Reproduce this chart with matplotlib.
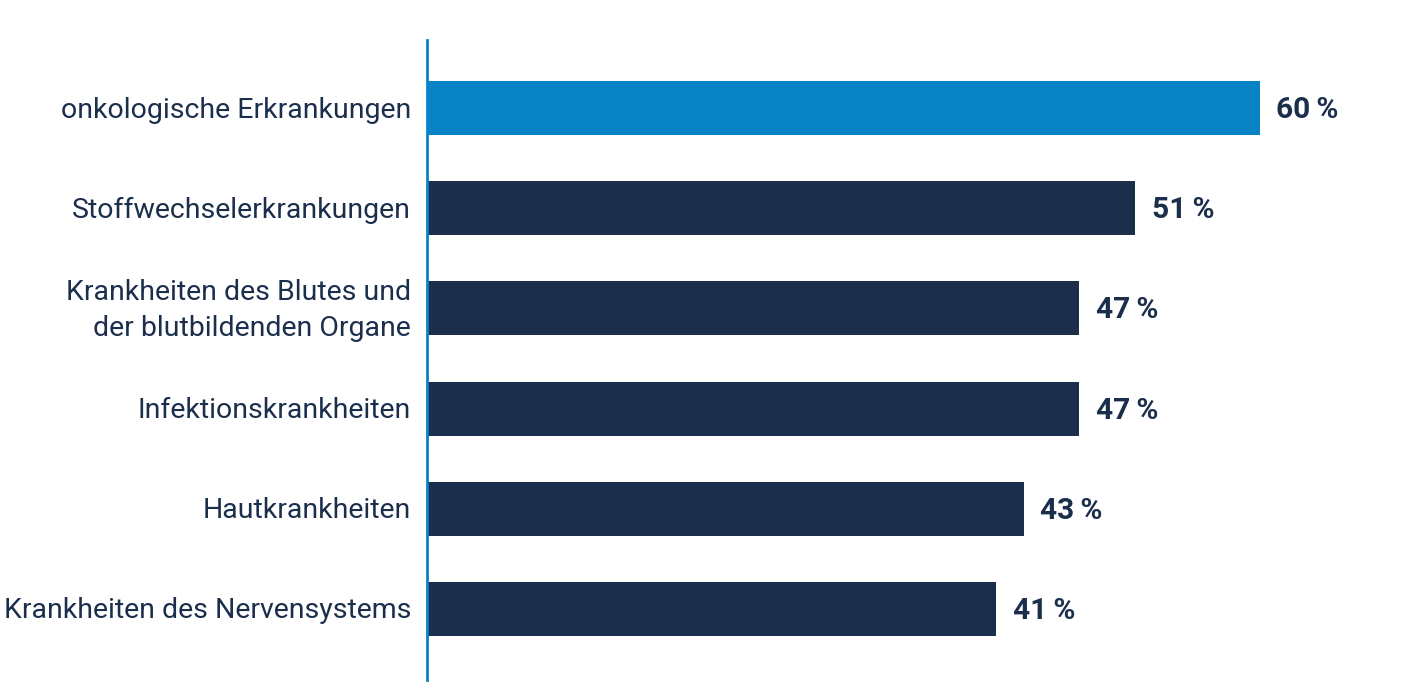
import matplotlib
matplotlib.use("Agg")
import matplotlib.pyplot as plt

categories = [
    "onkologische Erkrankungen",
    "Stoffwechselerkrankungen",
    "Krankheiten des Blutes und\nder blutbildenden Organe",
    "Infektionskrankheiten",
    "Hautkrankheiten",
    "Krankheiten des Nervensystems",
]
values = [60, 51, 47, 47, 43, 41]
value_labels = ["60\u2009%", "51\u2009%", "47\u2009%", "47\u2009%", "43\u2009%", "41\u2009%"]

blue = "#0783c6"
navy = "#1b2f4d"
colors = [blue] + [navy] * 5

plt.rcParams["font.family"] = ["Roboto", "DejaVu Sans"]

fig = plt.figure(figsize=(14.01, 7.0), dpi=100)
ax = fig.add_axes([427 / 1401, 20 / 700, 974 / 1401, 640 / 700])

y = list(range(len(categories)))
ax.barh(y, values, height=0.54, color=colors)
ax.set_xlim(0, 974 / 13.88)
ax.set_ylim(5.71, -0.68)

# value labels at the bar ends
for yi, v, lab in zip(y, values, value_labels):
    ax.text(v + 1.2, yi + 0.02, lab, va="center", ha="left", fontsize=21.5,
            fontweight="bold", color=navy)

# category labels left of the axis line
for yi, cat in zip(y, categories):
    ax.text(-1.15, yi + 0.02, cat, va="center", ha="right", fontsize=20.5,
            color=navy, linespacing=1.45)

for s in ["top", "right", "bottom"]:
    ax.spines[s].set_visible(False)
ax.spines["left"].set_color(blue)
ax.spines["left"].set_linewidth(2)
ax.set_xticks([])
ax.set_yticks([])

fig.savefig("out.png", dpi=100)
